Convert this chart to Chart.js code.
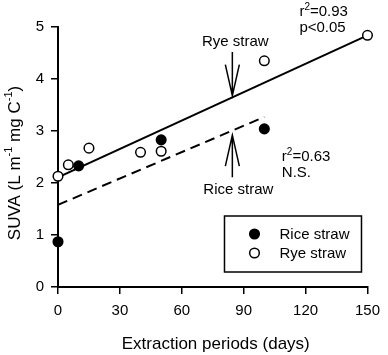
<!DOCTYPE html>
<html>
<head>
<meta charset="utf-8">
<script src="https://cdn.jsdelivr.net/npm/chart.js@4.4.0/dist/chart.umd.min.js"></script>
<style>
  html, body { margin: 0; padding: 0; background: #fff; }
</style>
</head>
<body>
<canvas id="myChart" width="388" height="355"></canvas>
<script>
// data
const riceDays = [0, 10, 50, 100];
const riceSuva = [0.87, 2.33, 2.83, 3.04];
const ryeDays = [0, 5, 15, 40, 50, 100, 150];
const ryeSuva = [2.13, 2.35, 2.67, 2.59, 2.61, 4.35, 4.84];
// regression lines (end points)
const riceFitDays = [0, 100];
const riceFitSuva = [1.58, 3.27];
const ryeFitDays = [0, 150];
const ryeFitSuva = [2.11, 4.84];
const xTicks = [0, 30, 60, 90, 120, 150];
const yTicks = [0, 1, 2, 3, 4, 5];

const FONT = "'Liberation Sans', Arial, sans-serif";

function pts(xs, ys) {
  return xs.map((x, i) => ({x: x, y: ys[i]}));
}

// text with a superscript piece: parts = [[text, isSup], ...]
function partsWidth(c, parts, size, supSize) {
  let w = 0;
  parts.forEach(p => {
    c.font = (p[1] ? supSize : size) + "px " + FONT;
    w += c.measureText(p[0]).width;
  });
  return w;
}
function drawParts(c, parts, x, y, size, supSize, rise) {
  parts.forEach(p => {
    c.font = (p[1] ? supSize : size) + "px " + FONT;
    c.fillText(p[0], x, p[1] ? y - rise : y);
    x += c.measureText(p[0]).width;
  });
}

function arrow(c, x, y0, y1) {
  // shaft from y0 to tip y1, V head at tip
  const dir = y1 > y0 ? 1 : -1;
  c.beginPath();
  c.moveTo(x, y0);
  c.lineTo(x, y1);
  c.moveTo(x - 7, y1 - dir * 31);
  c.lineTo(x, y1);
  c.lineTo(x + 7, y1 - dir * 31);
  c.stroke();
}

const extras = {
  id: 'extras',
  afterDraw(chart) {
    const c = chart.ctx;
    const xs = chart.scales.x, ys = chart.scales.y;
    const area = chart.chartArea;
    c.save();
    c.fillStyle = '#000';
    c.strokeStyle = '#000';
    c.textBaseline = 'middle';

    // axis titles
    c.font = "17px " + FONT;
    c.textAlign = 'center';
    c.fillText('Extraction periods (days)', (area.left + area.right) / 2 + 3, 344);

    const yTitle = [['SUVA (L m', false], ['-1', true], [' mg C', false], ['-1', true], [')', false]];
    c.save();
    c.translate(15, (area.top + area.bottom) / 2 + 6);
    c.rotate(-Math.PI / 2);
    c.textAlign = 'left';
    const tw = partsWidth(c, yTitle, 17, 11);
    drawParts(c, yTitle, -tw / 2, 0, 17, 11, 6);
    c.restore();

    // arrows and labels
    c.lineWidth = 1.5;
    const ax = xs.getPixelForValue(84.5);
    arrow(c, ax, ys.getPixelForValue(4.52), ys.getPixelForValue(3.68));
    arrow(c, ax, ys.getPixelForValue(2.11), ys.getPixelForValue(2.92));

    c.font = "15px " + FONT;
    c.textAlign = 'center';
    c.fillText('Rye straw', ax + 3, ys.getPixelForValue(4.72));
    c.fillText('Rice straw', ax + 6, ys.getPixelForValue(1.87));

    c.textAlign = 'left';
    const r2 = [['r', false], ['2', true], ['=0.93', false]];
    drawParts(c, r2, xs.getPixelForValue(117), ys.getPixelForValue(5.29), 15, 10, 5);
    c.font = "15px " + FONT;
    c.fillText('p<0.05', xs.getPixelForValue(117), ys.getPixelForValue(4.98));
    const r2b = [['r', false], ['2', true], ['=0.63', false]];
    drawParts(c, r2b, xs.getPixelForValue(108.5), ys.getPixelForValue(2.5), 15, 10, 5);
    c.font = "15px " + FONT;
    c.fillText('N.S.', xs.getPixelForValue(108.5), ys.getPixelForValue(2.19));

    // legend box
    const lx = area.right - 143, ly = area.bottom - 71;
    c.lineWidth = 1.5;
    c.strokeRect(lx, ly, 137, 56);
    const sets = [chart.data.datasets[0], chart.data.datasets[1]];
    sets.forEach((ds, i) => {
      const cy = ly + 18 + i * 19;
      c.beginPath();
      c.arc(lx + 30, cy, 4.8, 0, Math.PI * 2);
      c.fillStyle = ds.backgroundColor;
      c.fill();
      c.lineWidth = ds.borderWidth;
      c.strokeStyle = ds.borderColor;
      c.stroke();
      c.fillStyle = '#000';
      c.font = "15px " + FONT;
      c.fillText(ds.label, lx + 55, cy + 1);
    });
    c.restore();
  }
};

const ctx = document.getElementById("myChart").getContext("2d");
const chart = new Chart(ctx, {
  type: 'scatter',
  data: {
    datasets: [{
      label: 'Rice straw',
      data: pts(riceDays, riceSuva),
      backgroundColor: '#000',
      borderColor: '#000',
      borderWidth: 1.5,
      pointRadius: 4.8,
      clip: false,
      order: 0
    }, {
      label: 'Rye straw',
      data: pts(ryeDays, ryeSuva),
      backgroundColor: '#fff',
      borderColor: '#000',
      borderWidth: 1.5,
      pointRadius: 4.8,
      clip: false,
      order: 0
    }, {
      label: 'rice fit',
      type: 'line',
      data: pts(riceFitDays, riceFitSuva),
      borderColor: '#000',
      borderWidth: 2,
      borderDash: [10, 6],
      pointRadius: 0,
      fill: false,
      order: 1
    }, {
      label: 'rye fit',
      type: 'line',
      data: pts(ryeFitDays, ryeFitSuva),
      borderColor: '#000',
      borderWidth: 2,
      pointRadius: 0,
      fill: false,
      order: 1
    }]
  },
  options: {
    responsive: false,
    animation: false,
    layout: {padding: {top: 27, right: 14, left: 0, bottom: 0}},
    plugins: {legend: {display: false}, tooltip: {enabled: false}},
    scales: {
      x: {
        type: 'linear',
        min: 0, max: 150,
        afterFit(s) { s.height = 68; },
        afterBuildTicks(s) { s.ticks = xTicks.map(v => ({value: v})); },
        grid: {drawOnChartArea: false, tickLength: 7, color: '#000', lineWidth: 1.5},
        border: {color: '#000', width: 2},
        ticks: {color: '#000', font: {family: FONT, size: 15}, padding: 8, maxRotation: 0}
      },
      y: {
        type: 'linear',
        min: 0, max: 5,
        afterFit(s) { s.width = 58; },
        afterBuildTicks(s) { s.ticks = yTicks.map(v => ({value: v})); },
        grid: {drawOnChartArea: false, tickLength: 7, color: '#000', lineWidth: 1.5},
        border: {color: '#000', width: 2},
        ticks: {color: '#000', font: {family: FONT, size: 15}, padding: 7}
      }
    }
  },
  plugins: [extras]
});
</script>
</body>
</html>
